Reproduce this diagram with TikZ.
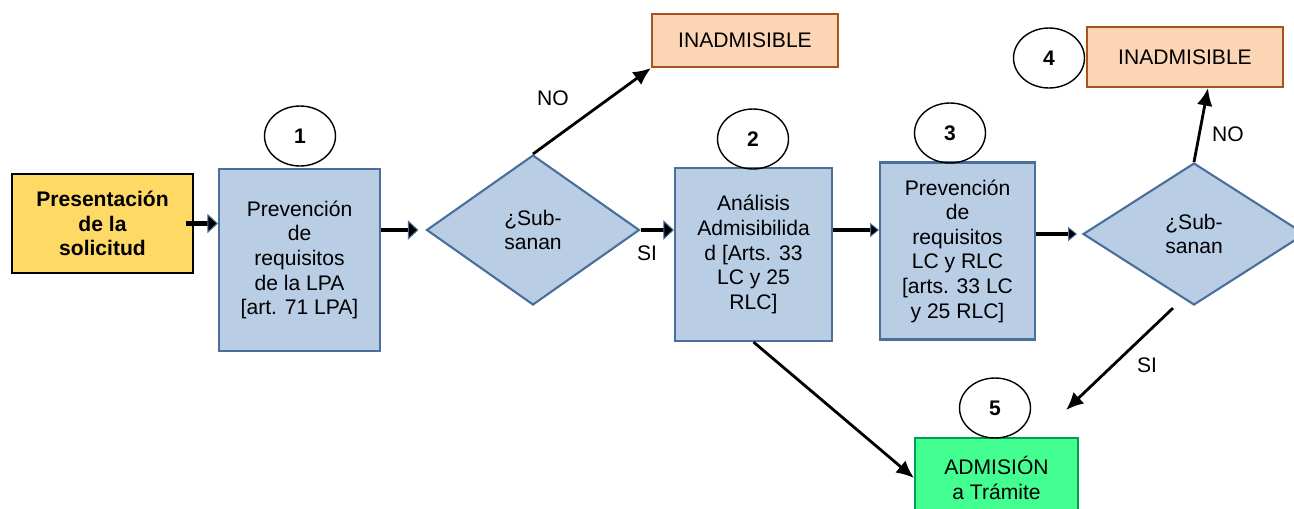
\documentclass[tikz,border=0pt]{standalone}
\usepackage{fontspec}
\setmainfont{Liberation Sans}
\usepackage{xcolor,tikz}
\usetikzlibrary{arrows.meta,shapes.geometric}
\definecolor{boxfill}{HTML}{B9CDE5}
\definecolor{boxline}{HTML}{4A6F9C}
\definecolor{startfill}{HTML}{FFD966}
\definecolor{nofill}{HTML}{FCD5B4}
\definecolor{noline}{HTML}{A5541A}
\definecolor{okfill}{HTML}{43FF91}
\definecolor{okline}{HTML}{00A050}

\begin{document}
\begin{tikzpicture}[x=.02cm,y=-.02cm,>=Latex,
 every node/.style={font=\fontsize{12}{14}\selectfont,align=center},
 pasobox/.style={draw=boxline,fill=boxfill,line width=1.2pt,inner sep=2pt},
 decide/.style={diamond,draw=boxline,fill=boxfill,line width=1.2pt,inner sep=0pt},
 finbox/.style={draw=noline,fill=nofill,line width=1.2pt,minimum width=3.72cm,minimum height=1.06cm},
 numcirc/.style={ellipse,draw,line width=.8pt,minimum width=1.42cm,minimum height=1.2cm,font=\fontsize{12}{14}\bfseries},
 flow/.style={line width=2.8pt,-{Triangle[length=6pt,width=11pt,fill=black,color=boxline,line width=.6pt]}},
 thinflow/.style={line width=1.9pt,-{Triangle[length=5pt,width=8pt,fill=black,color=boxline,line width=.5pt]}},
 rama/.style={line width=1.6pt,-{Latex[length=10pt,width=9pt]}}]
 \useasboundingbox (0,0) rectangle (1294,508);
 \node[draw,fill=startfill,line width=1.2pt,minimum width=3.62cm,minimum height=1.98cm,font=\fontsize{12}{14}\bfseries] (pres) at (102.5,223.5) {Presentación\\de la\\solicitud};
 \node[pasobox,minimum width=3.22cm,minimum height=3.64cm] (p1) at (299.5,260) {Prevención\\de\\requisitos\\de la LPA\\{[}art. 71 LPA{]}};
 \node[decide,minimum width=4.26cm,minimum height=3cm] (d1) at (533,230) {¿Sub-\\sanan};
 \node[finbox] (inad1) at (745,40.5) {INADMISIBLE};
 \node[pasobox,minimum width=3.14cm,minimum height=3.46cm] (p2) at (753.5,254.5) {Análisis\\Admisibilida\\d {[}Arts. 33\\LC y 25\\RLC{]}};
 \node[pasobox,minimum width=3.1cm,minimum height=3.54cm] (p3) at (957.5,251) {Prevención\\de\\requisitos\\LC y RLC\\{[}arts. 33 LC\\y 25 RLC{]}};
 \node[decide,minimum width=4.44cm,minimum height=2.84cm] (d2) at (1194,234) {¿Sub-\\sanan};
 \node[finbox,minimum width=3.92cm,minimum height=1.2cm] (inad2) at (1185,57) {INADMISIBLE};
 \node[draw=okline,fill=okfill,line width=1.2pt,minimum width=3.26cm,minimum height=1.6cm] (adm) at (996.5,478) {ADMISIÓN\\a Trámite};
 % numeros de paso
 \node[numcirc] (c1) at (300,136) {1};
 \node[numcirc] (c2) at (753,139) {2};
 \node[numcirc] (c3) at (950,133) {3};
 \node[numcirc] (c4) at (1049,58) {4};
 \node[numcirc] (c5) at (995,408) {5};
 % flechas
 \draw[flow] ([xshift=-.16cm]pres.east)--(pres.east -| p1.west);
 \draw[flow] (p1.east |- d1.west)--([xshift=-.14cm]d1.west);
 \draw[flow] (d1.east)--(d1.east -| p2.west);
 \draw[thinflow] (p2.east |- d1.east)--(p3.west |- d1.east);
 \draw[thinflow] (p3.east |- d2.west)--([xshift=-.1cm]d2.west);
 \draw[rama] (d1.north)--(inad1.south west);
 \draw[rama] (d2.north)--([xshift=.46cm]inad2.south);
 \coordinate (siend) at (1066,410);
 \draw[rama] ([xshift=-.42cm,yshift=-.04cm]d2.south)--(siend);
 \draw[rama] (p2.south)--(adm.west);
 \node (no1) at (553,98) {NO};
 \node (si1) at (647,253) {SI};
 \node (no2) at (1228,134) {NO};
 \node (si2) at (1147,365) {SI};
\end{tikzpicture}
\end{document}
